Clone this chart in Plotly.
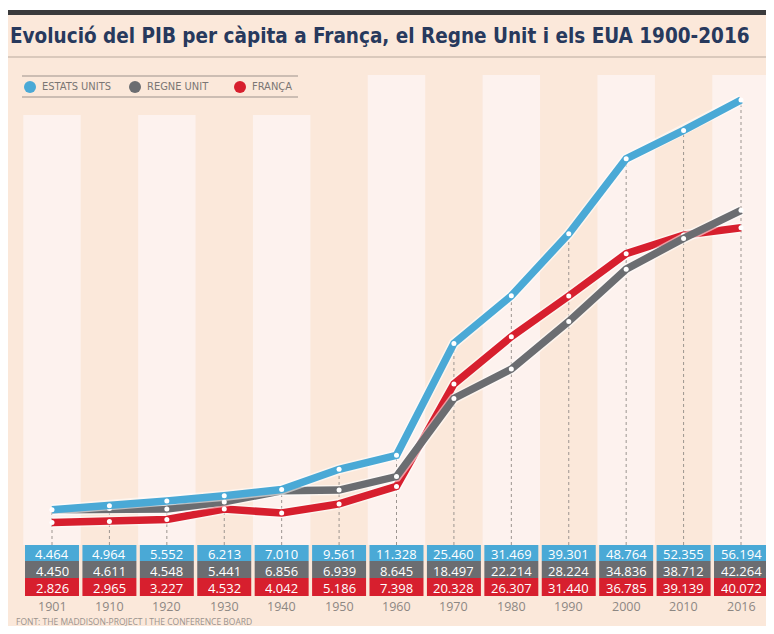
import plotly.graph_objects as go

# ---- data ----
years = ["1901", "1910", "1920", "1930", "1940", "1950", "1960",
         "1970", "1980", "1990", "2000", "2010", "2016"]
usa = [4464, 4964, 5552, 6213, 7010, 9561, 11328, 25460, 31469, 39301, 48764, 52355, 56194]
uk = [4450, 4611, 4548, 5441, 6856, 6939, 8645, 18497, 22214, 28224, 34836, 38712, 42264]
france = [2826, 2965, 3227, 4532, 4042, 5186, 7398, 20328, 26307, 31440, 36785, 39139, 40072]
series_names = ["ESTATS UNITS", "REGNE UNIT", "FRANÇA"]
title_text = "Evolució del PIB per càpita a França, el Regne Unit i els EUA 1900-2016"
source_text = "FONT: THE MADDISON-PROJECT I THE CONFERENCE BOARD"

# ---- style / layout ----
OFF = 8                          # default page body margin
W, H = 774 - OFF, 634 - 2 * OFF  # figure size that fits the window
C_BLUE = "#4aa9d6"
C_GRAY = "#6b6d71"
C_RED = "#d71f2e"
C_BG = "#fbe8da"
C_STRIPE = "#fdf2ee"
C_TITLE = "#27395d"
COND = "DejaVu Sans Condensed, Liberation Sans Narrow, sans-serif"
SANS = "Open Sans, Noto Sans, sans-serif"

# axis geometry (window pixels): first/last category centres, zero line and top-value line
X_FIRST, X_LAST = 52, 741
Y_ZERO, Y_TOP, V_TOP = 545, 100, max(usa)


def py(p):
    """window pixel-from-top -> paper y"""
    return 1 - (p - OFF) / H


def px(p):
    """window pixel-from-left -> paper x"""
    return max(0.0, (p - OFF) / W)


n = len(years)
step = (X_LAST - X_FIRST) / (n - 1)
x_range = [-(X_FIRST - OFF) / step, (n - 1) + (OFF + W - X_LAST) / step]
k = (Y_ZERO - Y_TOP) / V_TOP
y_range = [-(OFF + H - Y_ZERO) / k, (Y_ZERO - OFF) / k]

x = list(range(n))
fig = go.Figure()
shapes = []
annotations = []

# page background, dark top bar, rule under the title
shapes.append(dict(type="rect", xref="paper", yref="paper", x0=0, x1=1, y0=0, y1=py(15),
                   fillcolor=C_BG, line_width=0, layer="below"))
shapes.append(dict(type="rect", xref="paper", yref="paper", x0=0, x1=1, y0=py(15), y1=py(10),
                   fillcolor="#3a3a3c", line_width=0, layer="below"))
shapes.append(dict(type="line", xref="paper", yref="paper", x0=0, x1=1, y0=py(57), y1=py(57),
                   line=dict(color="#b9a99e", width=1.2), layer="below"))

# alternating lighter stripes
for i in x:
    if i % 2 == 0:
        top = 115 if i < 6 else 75
        shapes.append(dict(type="rect", xref="x", yref="paper", x0=i - 0.5, x1=i + 0.5,
                           y0=py(545), y1=py(top), fillcolor=C_STRIPE, line_width=0, layer="below"))

# dashed drop lines
for i in x:
    top = max(usa[i], uk[i], france[i])
    shapes.append(dict(type="line", xref="x", yref="y", x0=i, x1=i, y0=0, y1=top,
                       line=dict(color="#9c9590", width=1, dash="3px,3px"), layer="below"))

# legend
for yy in (76, 97):
    shapes.append(dict(type="line", xref="paper", yref="paper", x0=px(22), x1=px(298),
                       y0=py(yy), y1=py(yy), line=dict(color="#9d928b", width=1.2)))
legend_x = [30, 135, 240]
for cx, col, name in zip(legend_x, [C_BLUE, C_GRAY, C_RED], series_names):
    r = 6
    shapes.append(dict(type="circle", xref="paper", yref="paper", x0=px(cx - r), x1=px(cx + r),
                       y0=py(87 + r), y1=py(87 - r), fillcolor=col, line_width=0))
    annotations.append(dict(xref="paper", yref="paper", x=px(cx + 10), y=py(87), text=name,
                            showarrow=False, xanchor="left", yanchor="middle",
                            font=dict(family=COND, size=11, color="#7a7674")))

# title
annotations.append(dict(xref="paper", yref="paper", x=px(8), y=py(36), text="<b>" + title_text + "</b>",
                        showarrow=False, xanchor="left", yanchor="middle",
                        font=dict(family=COND, size=20.5, color=C_TITLE)))

# data table
rows = [(usa, C_BLUE, 545, 561), (uk, C_GRAY, 561, 578), (france, C_RED, 578, 596)]
for vals, col, t, b in rows:
    for i in x:
        shapes.append(dict(type="rect", xref="x", yref="paper", x0=i - 0.47, x1=i + 0.47,
                           y0=py(b), y1=py(t), fillcolor=col, line_width=0))
        annotations.append(dict(xref="x", yref="paper", x=i, y=py((t + b) / 2 + 0.5),
                                text=f"{vals[i]:,}".replace(",", "."), height=15,
                                showarrow=False, xanchor="center", yanchor="middle",
                                font=dict(family=SANS, size=13, color="white")))
for i in x:
    annotations.append(dict(xref="x", yref="paper", x=i, y=py(606), text=years[i],
                            showarrow=False, xanchor="center", yanchor="middle",
                            font=dict(family=SANS, size=12.5, color="#8d8783")))

annotations.append(dict(xref="paper", yref="paper", x=px(14), y=py(621), text=source_text,
                        showarrow=False, xanchor="left", yanchor="middle",
                        font=dict(family=SANS, size=8.5, color="#9a938e")))

# lines: red bottom, gray middle, blue top
for vals, col, name in [(france, C_RED, series_names[2]), (uk, C_GRAY, series_names[1]),
                        (usa, C_BLUE, series_names[0])]:
    fig.add_trace(go.Scatter(x=x, y=vals, mode="lines", line=dict(color="rgba(255,255,255,0.55)", width=10.5),
                             hoverinfo="skip", showlegend=False))
    fig.add_trace(go.Scatter(x=x, y=vals, mode="lines+markers", name=name,
                             line=dict(color=col, width=7.5),
                             marker=dict(color="white", size=5, line=dict(width=0)),
                             showlegend=False))

fig.update_layout(
    width=W, height=H,
    margin=dict(l=0, r=0, t=0, b=0),
    paper_bgcolor="white",
    plot_bgcolor="rgba(0,0,0,0)",
    xaxis=dict(range=x_range, visible=False, fixedrange=True),
    yaxis=dict(range=y_range, visible=False, fixedrange=True),
    shapes=shapes,
    annotations=annotations,
    showlegend=False,
)

fig.write_html("out.html")
